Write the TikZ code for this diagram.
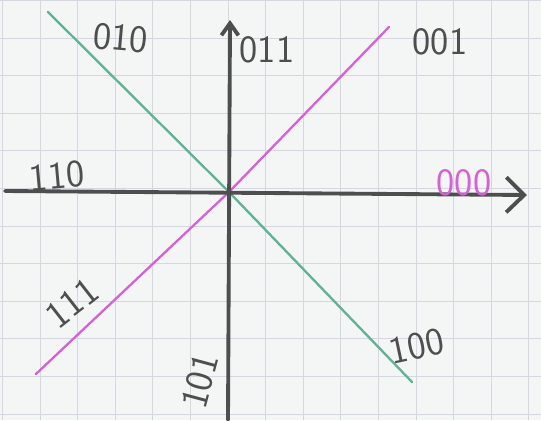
\documentclass[tikz,border=0pt]{standalone}
\usetikzlibrary{arrows.meta}

\definecolor{paper}{RGB}{244,245,245}
\definecolor{gridline}{RGB}{212,216,222}
\definecolor{pencil}{RGB}{78,78,78}
\definecolor{greenline}{RGB}{95,178,148}
\definecolor{pinkline}{RGB}{214,96,214}

\tikzset{
  axis/.style={pencil, line width=2.2pt, line cap=round},
  diag/.style={line width=1.3pt, line cap=round},
  label/.style={pencil, font=\fontsize{22}{26}\sffamily, inner sep=0pt},
}

\begin{document}
\begin{tikzpicture}[x=0.02cm, y=-0.02cm]

% === Paper with grid ===
\useasboundingbox[fill=paper] (0,0) rectangle (541,420);
\foreach \gx in {2.5,40.1,...,541} {
  \draw[gridline, line width=0.6pt] (\gx,0) -- (\gx,420);
}
\foreach \gy in {0.5,38.1,...,420} {
  \draw[gridline, line width=0.6pt] (0,\gy) -- (541,\gy);
}

% === End points ===
\coordinate (O) at (229,192);
\coordinate (xl) at (5,191);
\coordinate (xr) at (527,195);
\coordinate (yt) at (230,20);
\coordinate (yb) at (228,420);
\coordinate (g1) at (48,12);
\coordinate (g2) at (412,382);
\coordinate (m1) at (36,374);
\coordinate (m2) at (389,27);

% === Diagonals ===
\draw[diag, greenline] (g1) -- (O) -- (g2);
\draw[diag, pinkline] (m1) -- (O) -- (m2);

% === Axes ===
\draw[axis, -{Straight Barb[length=0.36cm,width=0.7cm]}] (xl) -- (xr);
\draw[axis, -{Straight Barb[length=0.24cm,width=0.34cm]}] (yb) -- (yt);

% === Labels ===
\node[label, rotate=-5] (l010) at (121,38) {010};
\node[label] (l011) at (267,50) {011};
\node[label] (l001) at (440,42) {001};
\node[label, rotate=5] (l110) at (57,176) {110};
\node[label, text=pinkline] (l000) at (464,183) {000};
\node[label, rotate=38] (l111) at (72,303) {111};
\node[label, rotate=75] (l101) at (200,381) {101};
\node[label, rotate=12] (l100) at (417,346) {100};

\end{tikzpicture}
\end{document}
